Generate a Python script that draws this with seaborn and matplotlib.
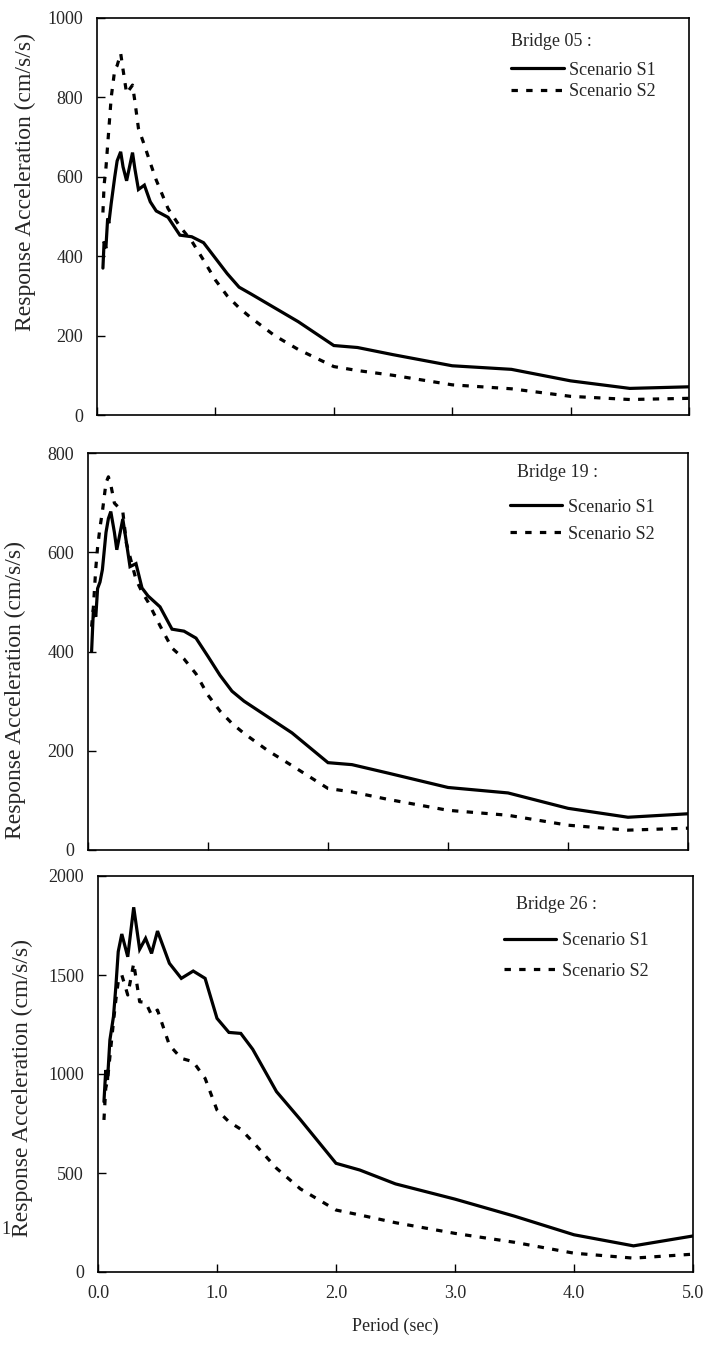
import matplotlib
matplotlib.use("Agg")
import matplotlib.pyplot as plt
from matplotlib.lines import Line2D
import pandas as pd
import seaborn as sns

sns.set_style("white")
plt.rcParams["font.family"] = ["Liberation Serif", "DejaVu Serif"]

# Response spectra (period in sec, acceleration in cm/s/s)
period_b05 = [0.05, 0.06, 0.075, 0.09, 0.1, 0.12, 0.15, 0.17, 0.2, 0.22, 0.25, 0.3, 0.32,
              0.35, 0.4, 0.45, 0.5, 0.6, 0.7, 0.8, 0.9, 1.0, 1.1, 1.2, 1.3, 1.5, 1.7,
              2.0, 2.2, 2.5, 3.0, 3.5, 4.0, 4.5, 5.0]
s1_b05 = [370, 437, 420, 495, 483, 533, 600, 640, 663, 625, 590, 661, 620,
          568, 579, 537, 514, 498, 453, 449, 434, 395, 356, 322, 305, 270, 235,
          175, 170, 152, 124, 115, 86, 67, 71]
s2_b05 = [510, 580, 620, 680, 720, 800, 870, 880, 911, 870, 810, 831, 790,
          722, 680, 635, 592, 520, 475, 438, 390, 340, 300, 270, 245, 200, 165,
          122, 112, 100, 76, 66, 47, 39, 42]

period_b19 = [0.03, 0.045, 0.065, 0.08, 0.1, 0.12, 0.15, 0.17, 0.19, 0.22, 0.24, 0.29, 0.32,
              0.35, 0.4, 0.45, 0.5, 0.6, 0.7, 0.8, 0.9, 1.0, 1.1, 1.2, 1.3, 1.5, 1.7,
              2.0, 2.2, 2.5, 3.0, 3.5, 4.0, 4.5, 5.0]
s1_b19 = [400, 484, 470, 527, 540, 565, 640, 668, 682, 640, 605, 667, 620,
          571, 577, 528, 512, 490, 445, 441, 427, 390, 352, 320, 300, 268, 236,
          176, 172, 155, 126, 115, 84, 66, 73]
s2_b19 = [450, 490, 568, 610, 650, 682, 740, 752, 736, 699, 694, 682, 618,
          591, 545, 520, 500, 452, 407, 385, 355, 312, 280, 255, 235, 200, 170,
          124, 117, 102, 80, 70, 50, 40, 44]

period_b26 = [0.05, 0.065, 0.08, 0.1, 0.13, 0.15, 0.17, 0.2, 0.25, 0.3, 0.35, 0.4,
              0.45, 0.5, 0.6, 0.7, 0.8, 0.9, 1.0, 1.1, 1.2, 1.3, 1.5, 1.7,
              2.0, 2.2, 2.5, 3.0, 3.5, 4.0, 4.5, 5.0]
s1_b26 = [860, 1020, 970, 1172, 1290, 1441, 1618, 1707, 1592, 1842, 1630, 1685,
          1609, 1722, 1559, 1483, 1520, 1483, 1281, 1210, 1205, 1125, 911, 770,
          549, 515, 445, 368, 282, 188, 132, 182]
s2_b26 = [768, 928, 970, 1087, 1264, 1374, 1466, 1500, 1399, 1559, 1365, 1362,
          1298, 1323, 1146, 1079, 1062, 978, 818, 759, 721, 658, 524, 420,
          313, 288, 249, 195, 150, 95, 70, 90]

bridges = ["Bridge 05 :", "Bridge 19 :", "Bridge 26 :"]
scenarios = ["Scenario S1", "Scenario S2"]
y_max = [1000, 800, 2000]
y_step = [200, 200, 500]
x_ticks = [0, 1, 2, 3, 4, 5]
x_tick_labels = ["0.0", "1.0", "2.0", "3.0", "4.0", "5.0"]

panels = [(period_b05, s1_b05, s2_b05),
          (period_b19, s1_b19, s2_b19),
          (period_b26, s1_b26, s2_b26)]

# axes rectangles [left, bottom, width, height] in figure fractions
W, H = 703, 1347
boxes = [(97, 18, 689, 415), (88, 453, 688, 850), (98, 876, 693, 1272)]
rects = [[l / W, 1 - b / H, (r - l) / W, (b - t) / H] for (l, t, r, b) in boxes]

# y-label anchor (axes fractions) and legend placement per panel
ylabel_xy = [(-0.103, 0.587), (-0.103, 0.403), (-0.109, 0.465)]
title_pos = [(0.700, 0.94), (0.715, 0.95), (0.703, 0.927)]
legend_pos = [(0.700, 0.89), (0.703, 0.885), (0.682, 0.858)]
legend_spacing = [0.25, 0.55, 0.75]

dash_pattern = (2.0, 2.6)
fig = plt.figure(figsize=(W / 100, H / 100), dpi=100)

for i, (period, s1, s2) in enumerate(panels):
    ax = fig.add_axes(rects[i])
    df = pd.DataFrame({
        "period": list(period) * 2,
        "acc": list(s1) + list(s2),
        "scenario": [scenarios[0]] * len(period) + [scenarios[1]] * len(period),
    })
    sns.lineplot(data=df, x="period", y="acc", hue="scenario", style="scenario",
                 palette=["black", "black"],
                 dashes={scenarios[0]: "", scenarios[1]: dash_pattern},
                 linewidth=2.3, sort=False, estimator=None, legend=False, ax=ax)
    for ln in ax.get_lines():
        ln.set_dash_capstyle("butt")
        ln.set_solid_joinstyle("miter")

    ax.set_xlim(0, 5)
    ax.set_ylim(0, y_max[i])
    ax.set_yticks(range(0, y_max[i] + 1, y_step[i]))
    ax.set_xticks(x_ticks)
    if i == 2:
        ax.set_xticklabels(x_tick_labels)
        ax.set_xlabel("Period (sec)", fontsize=13, labelpad=12)
    else:
        ax.set_xticklabels([])
        ax.set_xlabel("")
    ax.set_ylabel("Response Acceleration (cm/s/s)", fontsize=17)
    ax.yaxis.set_label_coords(*ylabel_xy[i])
    ax.tick_params(axis="both", direction="in", length=6, width=1, labelsize=13,
                   top=False, right=False, bottom=True, left=True, color="black")
    ax.tick_params(axis="y", pad=10)
    ax.tick_params(axis="x", pad=9)
    for sp in ax.spines.values():
        sp.set_visible(True)
        sp.set_color("black")
        sp.set_linewidth(1.2)

    ax.text(title_pos[i][0], title_pos[i][1], bridges[i], transform=ax.transAxes,
            fontsize=13, ha="left", va="center")
    handles = [Line2D([], [], color="black", lw=2.3),
               Line2D([], [], color="black", lw=2.3, dashes=dash_pattern,
                      dash_capstyle="butt")]
    ax.legend(handles, scenarios, loc="upper left", bbox_to_anchor=legend_pos[i],
              frameon=False, fontsize=13, handlelength=2.9, handletextpad=0.3,
              labelspacing=legend_spacing[i], borderpad=0, borderaxespad=0)

fig.text(0.002, 1 - 1230 / H, "1", fontsize=13, ha="left", va="center")

fig.savefig("out.png", dpi=100)
